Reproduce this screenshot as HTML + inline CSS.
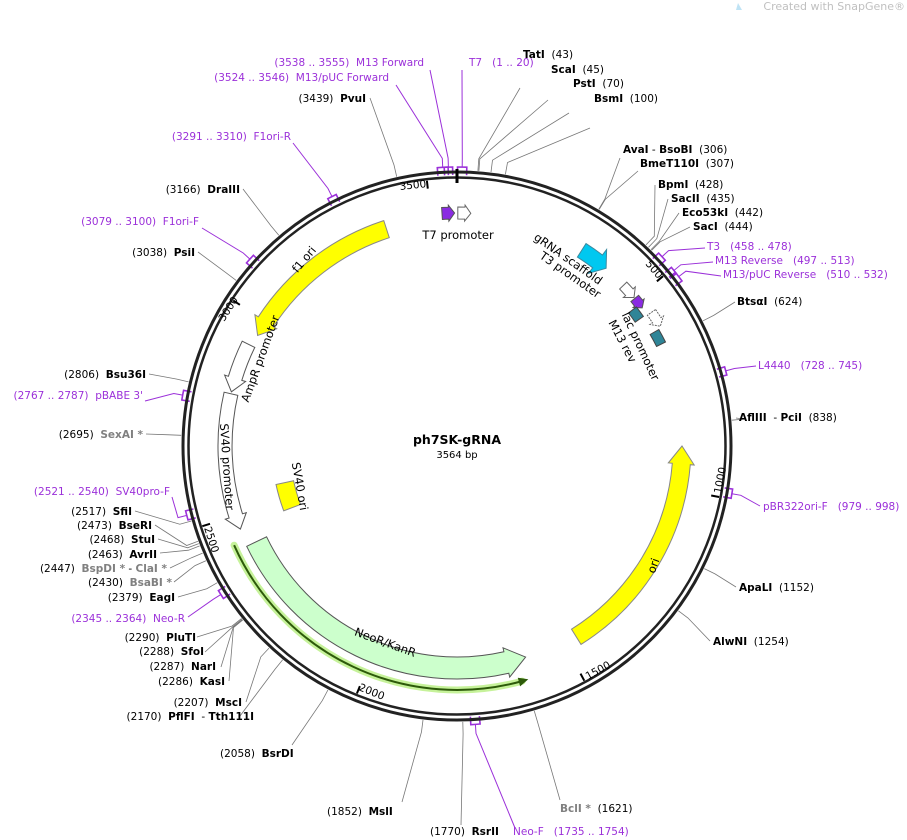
<!DOCTYPE html>
<html><head><meta charset="utf-8">
<style>
html,body{margin:0;padding:0;background:#fff;}
svg{display:block;font-family:"DejaVu Sans","Liberation Sans",sans-serif;}
text{white-space:pre;}
.b{font-weight:bold;}
.t{font-size:10.5px;fill:#000;}
.g{fill:#808080;}
.p{fill:#9b30d9;font-size:10.5px;}
.f{font-size:11.5px;fill:#000;}
</style></head>
<body>
<svg id="s" width="907" height="840" viewBox="0 0 907 840" xmlns="http://www.w3.org/2000/svg" xml:space="preserve">
<text x="905" y="10" text-anchor="end" font-size="11" fill="#c0c0c0">Created with SnapGene®</text>
<path d="M738 3 l4 7 l-6 0z" fill="#bfe3f5"/>
<g id="lines" stroke="#777" stroke-width="0.8" fill="none"></g>
<g id="plines" stroke="#9b30d9" stroke-width="1" fill="none"></g>
<circle cx="457" cy="446" r="274" fill="none" stroke="#222" stroke-width="3"/>
<circle cx="457" cy="446" r="268.5" fill="none" stroke="#222" stroke-width="2.5"/>
<g id="feat"></g>
<g id="ticks" stroke="#000" stroke-width="2"></g>

<text x="457" y="444" text-anchor="middle" font-size="12.5" class="b">ph7SK-gRNA</text>
<text x="457" y="458" text-anchor="middle" font-size="10">3564 bp</text>

<g font-size="10.5">
<text transform="translate(400,190) rotate(-6)">3500</text>
<text transform="translate(645,264) rotate(50)">500</text>
<text transform="translate(721,494) rotate(-79)">1000</text>
<text transform="translate(588,680) rotate(-29)">1500</text>
<text transform="translate(358,690) rotate(22)">2000</text>
<text transform="translate(204,528) rotate(72)">2500</text>
<text transform="translate(224,322) rotate(-57)">3000</text>
</g>

<text class="f" transform="translate(458,239)" text-anchor="middle">T7 promoter</text>
<text class="f" transform="translate(566,262) rotate(35)" text-anchor="middle">gRNA scaffold</text>
<text class="f" transform="translate(568,278) rotate(35)" text-anchor="middle">T3 promoter</text>
<text class="f" transform="translate(619,343) rotate(62)" text-anchor="middle">M13 rev</text>
<text class="f" transform="translate(637,348) rotate(65)" text-anchor="middle">lac promoter</text>
<text class="f" transform="translate(307,262) rotate(-50)" text-anchor="middle">f1 ori</text>
<text class="f" transform="translate(264,360) rotate(-70)" text-anchor="middle">AmpR promoter</text>
<text class="f" transform="translate(223,467) rotate(86)" text-anchor="middle">SV40 promoter</text>
<text class="f" transform="translate(296,487) rotate(80)" text-anchor="middle">SV40 ori</text>
<text class="f" transform="translate(384,646) rotate(20)" text-anchor="middle">NeoR/KanR</text>
<text class="f" transform="translate(657,567) rotate(-70)" text-anchor="middle">ori</text>

<g class="t">
<text x="523" y="58"><tspan class="b">TatI</tspan>  (43)</text>
<text x="551" y="73"><tspan class="b">ScaI</tspan>  (45)</text>
<text x="573" y="87"><tspan class="b">PstI</tspan>  (70)</text>
<text x="594" y="102"><tspan class="b">BsmI</tspan>  (100)</text>
<text x="623" y="153"><tspan class="b">AvaI</tspan> - <tspan class="b">BsoBI</tspan>  (306)</text>
<text x="640" y="167"><tspan class="b">BmeT110I</tspan>  (307)</text>
<text x="658" y="188"><tspan class="b">BpmI</tspan>  (428)</text>
<text x="671" y="202"><tspan class="b">SacII</tspan>  (435)</text>
<text x="682" y="216"><tspan class="b">Eco53kI</tspan>  (442)</text>
<text x="693" y="230"><tspan class="b">SacI</tspan>  (444)</text>
<text x="737" y="305"><tspan class="b">BtsαI</tspan>  (624)</text>
<text x="739" y="421"><tspan class="b">AflIII</tspan>  - <tspan class="b">PciI</tspan>  (838)</text>
<text x="739" y="591"><tspan class="b">ApaLI</tspan>  (1152)</text>
<text x="713" y="645"><tspan class="b">AlwNI</tspan>  (1254)</text>
<text x="560" y="812"><tspan class="b g">BclI *</tspan>  (1621)</text>
<text x="430" y="835">(1770)  <tspan class="b">RsrII</tspan></text>
<text x="327" y="815">(1852)  <tspan class="b">MslI</tspan></text>
<text x="220" y="757">(2058)  <tspan class="b">BsrDI</tspan></text>
</g>
<g class="t" text-anchor="end">
<text x="254" y="720">(2170)  <tspan class="b">PflFI</tspan>  - <tspan class="b">Tth111I</tspan></text>
<text x="242" y="706">(2207)  <tspan class="b">MscI</tspan></text>
<text x="225" y="685">(2286)  <tspan class="b">KasI</tspan></text>
<text x="216" y="670">(2287)  <tspan class="b">NarI</tspan></text>
<text x="204" y="655">(2288)  <tspan class="b">SfoI</tspan></text>
<text x="196" y="641">(2290)  <tspan class="b">PluTI</tspan></text>
<text x="175" y="601">(2379)  <tspan class="b">EagI</tspan></text>
<text x="172" y="586">(2430)  <tspan class="b g">BsaBI *</tspan></text>
<text x="167" y="572">(2447)  <tspan class="b g">BspDI *</tspan> - <tspan class="b g">ClaI *</tspan></text>
<text x="157" y="558">(2463)  <tspan class="b">AvrII</tspan></text>
<text x="155" y="543">(2468)  <tspan class="b">StuI</tspan></text>
<text x="152" y="529">(2473)  <tspan class="b">BseRI</tspan></text>
<text x="132" y="515">(2517)  <tspan class="b">SfiI</tspan></text>
<text x="143" y="438">(2695)  <tspan class="b g">SexAI *</tspan></text>
<text x="146" y="378">(2806)  <tspan class="b">Bsu36I</tspan></text>
<text x="195" y="256">(3038)  <tspan class="b">PsiI</tspan></text>
<text x="240" y="193">(3166)  <tspan class="b">DraIII</tspan></text>
<text x="366" y="102">(3439)  <tspan class="b">PvuI</tspan></text>
</g>
<g class="p" text-anchor="end">
<text x="424" y="66">(3538 .. 3555)  M13 Forward</text>
<text x="389" y="81">(3524 .. 3546)  M13/pUC Forward</text>
<text x="291" y="140">(3291 .. 3310)  F1ori-R</text>
<text x="199" y="225">(3079 .. 3100)  F1ori-F</text>
<text x="143" y="399">(2767 .. 2787)  pBABE 3'</text>
<text x="170" y="495">(2521 .. 2540)  SV40pro-F</text>
<text x="185" y="622">(2345 .. 2364)  Neo-R</text>
</g>
<g class="p">
<text x="469" y="66">T7   (1 .. 20)</text>
<text x="707" y="250">T3   (458 .. 478)</text>
<text x="715" y="264">M13 Reverse   (497 .. 513)</text>
<text x="723" y="278">M13/pUC Reverse   (510 .. 532)</text>
<text x="758" y="369">L4440   (728 .. 745)</text>
<text x="763" y="510">pBR322ori-F   (979 .. 998)</text>
<text x="513" y="835">Neo-F   (1735 .. 1754)</text>
</g>
</svg>
<script>
var CX=457,CY=446,N=3564,NS="http://www.w3.org/2000/svg";
function P(r,a){var t=a*Math.PI/180;return [CX+r*Math.sin(t),CY-r*Math.cos(t)];}
function f(p){return p[0].toFixed(1)+" "+p[1].toFixed(1);}
function ang(pos){return pos/N*360;}
function el(g,tag,at){var e=document.createElementNS(NS,tag);for(var k in at)e.setAttribute(k,at[k]);document.getElementById(g).appendChild(e);return e;}
function arc(r,a1,a2){var sw=a2>a1?1:0;var lg=Math.abs(a2-a1)>180?1:0;return "A"+r+" "+r+" 0 "+lg+" "+sw+" "+f(P(r,a2));}
function arrow(r,w,a1,a2,hl,hw){
  var dir=a2>a1?1:-1;var hd=hl/r*180/Math.PI;var ah=a2-dir*hd;
  var ro=r+w/2,ri=r-w/2;
  if(hl==0){return "M"+f(P(ro,a1))+arc(ro,a1,a2)+"L"+f(P(ri,a2))+arc(ri,a2,a1)+"Z";}
  return "M"+f(P(ro,a1))+arc(ro,a1,ah)+"L"+f(P(ro+hw,ah))+"L"+f(P(r,a2))+"L"+f(P(ri-hw,ah))+"L"+f(P(ri,ah))+arc(ri,ah,a1)+"Z";
}
function feat(r,w,a1,a2,hl,hw,fill,stroke,extra){var a={d:arrow(r,w,a1,a2,hl,hw),fill:fill,stroke:stroke||"#555","stroke-width":1};for(var k in extra)a[k]=extra[k];el("feat","path",a);}
var gl="M"+f(P(244,246))+arc(244,246,164.5);
el("feat","path",{d:gl,fill:"none",stroke:"#c6f29a","stroke-width":7,"stroke-linecap":"round"});
el("feat","path",{d:gl,fill:"none",stroke:"#2d5a0a","stroke-width":2});
var tip=P(244,163);var b1=P(248.5,165.3),b2=P(239.5,165.3);
el("feat","path",{d:"M"+f(tip)+"L"+f(b1)+"L"+f(b2)+"Z",fill:"#2d5a0a"});
feat(228,18,342,299,16,4,"#ffff00","#888");
feat(232,14,296,283.5,14,4,"#fff","#555");
feat(232,14,283,249,14,4,"#fff","#555");
feat(176,18,258,249.5,0,0,"#ffff00","#888");
feat(222,22,244.5,162,20,4,"#ccffcc","#555");
feat(225,18,148,90,18,4,"#ffff00","#888");
feat(233,12,356.3,359.4,6,2,"#8a2be2","#555");
feat(233,12,0.2,3.4,6,2,"#fff","#666");
feat(232,16,32.5,40,11,7,"#00c8f0","#3a8aa0");
feat(231,10,46,50,7,3,"#fff","#666");
feat(231,10,50.3,53.3,6,2,"#8a2be2","#555");
feat(222,10,52.2,55.2,0,0,"#2f8597","#444");
feat(236,10,55.5,59.5,7,3,"#fff","#666",{"stroke-dasharray":"2 1"});
feat(228,10,60,63.5,0,0,"#2f8597","#444");
var L=[[43,520,88],[45,548,100],[70,569,113],[100,590,128],[306,620,158],[307,638,171],[428,655,185],[435,668,199],[442,679,213],[444,690,227],
[624,735,302],[838,736,418],[1152,736,587],[1254,710,641],[1621,560,800],[1770,461,825],[1852,402,802],[2058,292,745],
[2170,240,716],[2207,246,702],[2286,229,681],[2287,221,667],[2288,205,652],[2290,197,637],
[2379,178,597],[2430,174,582],[2447,170,568],[2463,160,553],[2468,158,539],[2473,155,525],[2517,135,511],
[2695,146,434],[2806,149,374],[3038,198,252],[3166,243,189],[3439,370,98]];
L.forEach(function(l){var a=ang(l[0]);var p=P(276,a),q=P(288,a);el("lines","path",{d:"M"+f(p)+"L"+f(q)+"L"+l[1]+" "+l[2]});});
var PR=[[1,20,462,70],[3538,3555,430,70],[3524,3546,396,85],[3291,3310,293,143],[3079,3100,202,228],[2767,2787,145,401],[2521,2540,172,497],[2345,2364,188,617],
[1735,1754,515,828],[979,998,760,506],[728,745,756,366],[458,478,705,248],[497,513,713,262],[510,532,721,276]];
PR.forEach(function(p){var a1=ang(p[0]),a2=ang(p[1]),am=(a1+a2)/2;if(p[0]>p[1])a2+=360;
 el("plines","path",{d:"M"+f(P(271,a1))+"L"+f(P(279,a1))+arc(279,a1,a2)+"L"+f(P(271,a2)),"stroke-width":1.6});
 el("plines","path",{d:"M"+f(P(279,am))+"L"+f(P(288,am))+"L"+p[2]+" "+p[3]});});
el("ticks","path",{d:"M"+f(P(263,0))+"L"+f(P(277,0)),"stroke-width":3});
[500,1000,1500,2000,2500,3000,3500].forEach(function(t){var a=ang(t);el("ticks","path",{d:"M"+f(P(259,a))+"L"+f(P(267,a))});});
</script>
</body></html>
